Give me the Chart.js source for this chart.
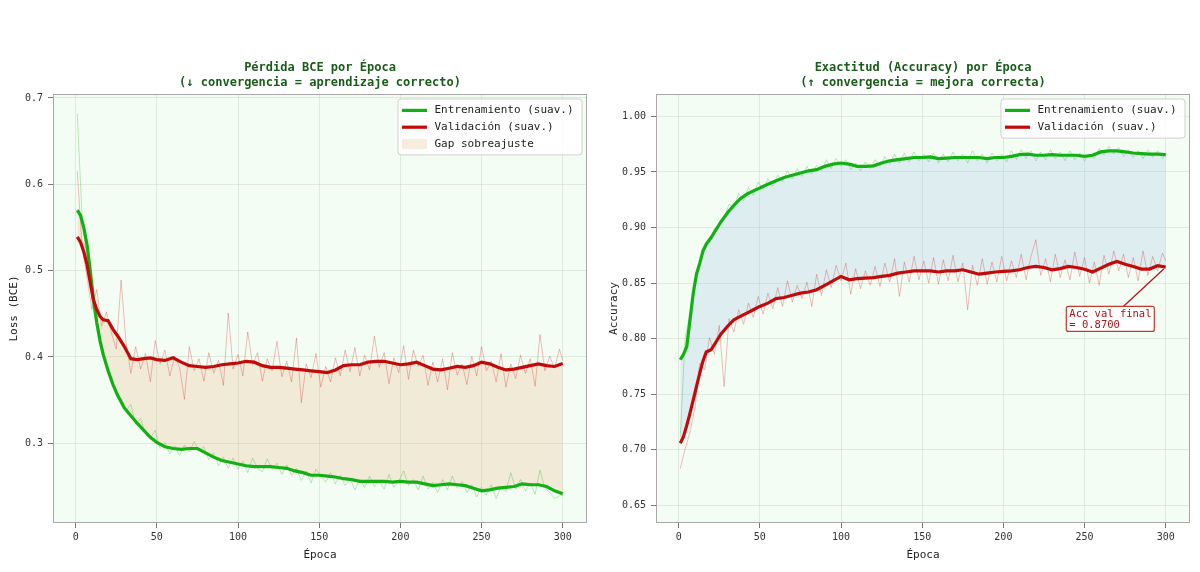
<!DOCTYPE html>
<html lang="es">
<head>
<meta charset="UTF-8">
<title>Pérdida BCE y Exactitud por Época</title>
<script src="https://cdn.jsdelivr.net/npm/chart.js@4/dist/chart.umd.min.js"></script>
<style>
    body { margin: 0; background: #fff; }
    .wrap { position: relative; width: 1200px; height: 572px; }
    .panel { position: absolute; top: 0; width: 600px; height: 572px; }
    #lossBox { left: 0; }
    #accBox { left: 600px; }
</style>
</head>
<body>
<div class="wrap">
    <div class="panel" id="lossBox"><canvas id="lossChart"></canvas></div>
    <div class="panel" id="accBox"><canvas id="accChart"></canvas></div>
</div>

<script>
const SMOOTH_EP = [1, 3, 5, 7, 9, 11, 13, 15, 17, 20, 23, 26, 30, 34, 38, 42, 46,
    50, 55, 60, 65, 70, 75, 80, 85, 90, 95, 100,
    105, 110, 115, 120, 125, 130, 135, 140, 145, 150,
    155, 160, 165, 170, 175, 180, 185, 190, 195, 200,
    205, 210, 215, 220, 225, 230, 235, 240, 245, 250,
    255, 260, 265, 270, 275, 280, 285, 290, 295, 300];

// raw (per-epoch) curves sampled every 3rd epoch: 1, 4, 7 ... 298, then 300
const RAW_EP = [];
for (let e = 1; e <= 298; e += 3) RAW_EP.push(e);
RAW_EP.push(300);

const X_TICKS = [0, 50, 100, 150, 200, 250, 300];
const LOSS_TICKS = [0.3, 0.4, 0.5, 0.6, 0.7];
const ACC_TICKS = [0.65, 0.70, 0.75, 0.80, 0.85, 0.90, 0.95, 1.00];

// --- BCE loss ---
const LOSS_TRAIN_SMOOTH = [0.570, 0.564, 0.550, 0.530, 0.500, 0.466, 0.440, 0.419, 0.403, 0.384, 0.368, 0.355, 0.341, 0.332, 0.323, 0.315, 0.307,
    0.301, 0.296, 0.294, 0.293, 0.294, 0.294, 0.289, 0.284, 0.280, 0.278, 0.276,
    0.274, 0.273, 0.273, 0.273, 0.272, 0.271, 0.268, 0.266, 0.263, 0.263,
    0.262, 0.261, 0.259, 0.258, 0.256, 0.256, 0.256, 0.256, 0.255, 0.256,
    0.255, 0.255, 0.253, 0.251, 0.252, 0.253, 0.252, 0.251, 0.248, 0.245,
    0.246, 0.248, 0.249, 0.250, 0.253, 0.252, 0.252, 0.250, 0.245, 0.2415];

const LOSS_VAL_SMOOTH = [0.539, 0.533, 0.522, 0.507, 0.486, 0.466, 0.455, 0.447, 0.443, 0.442, 0.432, 0.424, 0.412, 0.398, 0.397, 0.398, 0.399,
    0.397, 0.396, 0.399, 0.394, 0.390, 0.389, 0.388, 0.389, 0.391, 0.392, 0.393,
    0.395, 0.394, 0.390, 0.388, 0.388, 0.387, 0.386, 0.385, 0.384, 0.383,
    0.382, 0.385, 0.390, 0.391, 0.391, 0.394, 0.395, 0.395, 0.393, 0.391,
    0.392, 0.394, 0.390, 0.386, 0.385, 0.387, 0.389, 0.388, 0.390, 0.394,
    0.392, 0.388, 0.385, 0.386, 0.388, 0.390, 0.392, 0.390, 0.389, 0.3925];

const LOSS_TRAIN_RAW = [
    0.682, 0.560, 0.515, 0.468, 0.432, 0.404, 0.386, 0.372, 0.356, 0.352,
    0.338, 0.345, 0.322, 0.329, 0.311, 0.306, 0.315, 0.294, 0.301, 0.288,
    0.297, 0.286, 0.298, 0.290, 0.302, 0.291, 0.296, 0.281, 0.289, 0.274,
    0.284, 0.271, 0.283, 0.270, 0.279, 0.266, 0.283, 0.271, 0.267, 0.282,
    0.270, 0.277, 0.264, 0.275, 0.263, 0.271, 0.257, 0.268, 0.254, 0.270,
    0.262, 0.255, 0.266, 0.253, 0.263, 0.251, 0.259, 0.246, 0.258, 0.249,
    0.262, 0.250, 0.257, 0.247, 0.264, 0.249, 0.256, 0.268, 0.251, 0.258,
    0.246, 0.262, 0.247, 0.255, 0.243, 0.258, 0.246, 0.262, 0.248, 0.256,
    0.243, 0.252, 0.238, 0.249, 0.240, 0.252, 0.236, 0.250, 0.244, 0.266,
    0.247, 0.258, 0.245, 0.254, 0.241, 0.269, 0.248, 0.243, 0.236, 0.239,
    0.240];

const LOSS_VAL_RAW = [
    0.615, 0.527, 0.492, 0.455, 0.478, 0.436, 0.452, 0.428, 0.409, 0.489,
    0.418, 0.381, 0.412, 0.386, 0.404, 0.371, 0.419, 0.392, 0.408, 0.378,
    0.401, 0.388, 0.351, 0.412, 0.384, 0.398, 0.372, 0.405, 0.381, 0.396,
    0.367, 0.451, 0.386, 0.403, 0.378, 0.429, 0.391, 0.405, 0.372, 0.398,
    0.384, 0.418, 0.377, 0.395, 0.371, 0.422, 0.347, 0.392, 0.376, 0.404,
    0.365, 0.389, 0.371, 0.399, 0.378, 0.408, 0.383, 0.411, 0.378, 0.402,
    0.385, 0.424, 0.388, 0.405, 0.369, 0.399, 0.382, 0.413, 0.374, 0.408,
    0.389, 0.402, 0.367, 0.394, 0.371, 0.398, 0.362, 0.405, 0.379, 0.392,
    0.368, 0.401, 0.378, 0.412, 0.384, 0.395, 0.371, 0.404, 0.365, 0.392,
    0.375, 0.402, 0.381, 0.398, 0.366, 0.426, 0.384, 0.401, 0.387, 0.409,
    0.396];

// --- accuracy ---
const ACC_TRAIN_SMOOTH = [0.781, 0.786, 0.793, 0.817, 0.841, 0.858, 0.868, 0.879, 0.885, 0.891, 0.898, 0.905, 0.913, 0.920, 0.926, 0.930, 0.933,
    0.9355, 0.939, 0.942, 0.945, 0.947, 0.949, 0.951, 0.952, 0.955, 0.957, 0.958,
    0.957, 0.955, 0.955, 0.9555, 0.958, 0.960, 0.961, 0.962, 0.963, 0.963,
    0.9635, 0.962, 0.9625, 0.963, 0.963, 0.963, 0.963, 0.962, 0.963, 0.963,
    0.964, 0.9655, 0.966, 0.965, 0.965, 0.9655, 0.965, 0.965, 0.965, 0.964,
    0.965, 0.968, 0.969, 0.969, 0.968, 0.967, 0.9665, 0.966, 0.966, 0.9655];

const ACC_VAL_SMOOTH = [0.706, 0.712, 0.722, 0.733, 0.745, 0.757, 0.769, 0.780, 0.788, 0.790, 0.797, 0.804, 0.811, 0.817, 0.820, 0.823, 0.826,
    0.829, 0.832, 0.836, 0.837, 0.839, 0.841, 0.842, 0.844, 0.848, 0.852, 0.856,
    0.853, 0.854, 0.8545, 0.855, 0.856, 0.857, 0.859, 0.860, 0.861, 0.861,
    0.861, 0.860, 0.861, 0.861, 0.862, 0.860, 0.858, 0.859, 0.860, 0.8605,
    0.861, 0.862, 0.864, 0.865, 0.864, 0.862, 0.863, 0.865, 0.864, 0.8625,
    0.860, 0.8635, 0.867, 0.8695, 0.867, 0.865, 0.8626, 0.8626, 0.8656, 0.8644];

const ACC_TRAIN_RAW = [
    0.712, 0.801, 0.822, 0.851, 0.866, 0.884, 0.887, 0.899, 0.903, 0.908,
    0.921, 0.917, 0.931, 0.924, 0.936, 0.929, 0.941, 0.934, 0.944, 0.937,
    0.947, 0.941, 0.951, 0.944, 0.953, 0.946, 0.955, 0.948, 0.956, 0.951,
    0.961, 0.953, 0.962, 0.955, 0.961, 0.952, 0.958, 0.951, 0.959, 0.953,
    0.961, 0.955, 0.964, 0.957, 0.966, 0.958, 0.967, 0.959, 0.968, 0.960,
    0.966, 0.959, 0.967, 0.958, 0.966, 0.959, 0.968, 0.960, 0.966, 0.958,
    0.969, 0.960, 0.966, 0.958, 0.967, 0.960, 0.966, 0.959, 0.969, 0.961,
    0.970, 0.962, 0.969, 0.960, 0.968, 0.961, 0.970, 0.962, 0.968, 0.960,
    0.969, 0.961, 0.967, 0.960, 0.966, 0.962, 0.971, 0.965, 0.973, 0.966,
    0.972, 0.964, 0.970, 0.963, 0.969, 0.962, 0.970, 0.963, 0.969, 0.962,
    0.967];

const ACC_VAL_RAW = [
    0.683, 0.701, 0.716, 0.737, 0.778, 0.772, 0.801, 0.786, 0.812, 0.757,
    0.818, 0.806, 0.826, 0.813, 0.832, 0.819, 0.838, 0.822, 0.841, 0.827,
    0.846, 0.829, 0.852, 0.833, 0.848, 0.836, 0.851, 0.829, 0.858, 0.839,
    0.862, 0.846, 0.866, 0.852, 0.868, 0.840, 0.863, 0.845, 0.861, 0.848,
    0.865, 0.847, 0.868, 0.851, 0.872, 0.838, 0.869, 0.851, 0.874, 0.853,
    0.870, 0.850, 0.873, 0.849, 0.871, 0.852, 0.875, 0.851, 0.868, 0.826,
    0.866, 0.848, 0.872, 0.849, 0.869, 0.851, 0.874, 0.852, 0.870, 0.855,
    0.876, 0.853, 0.874, 0.889, 0.857, 0.872, 0.851, 0.876, 0.855, 0.871,
    0.853, 0.878, 0.856, 0.873, 0.850, 0.869, 0.848, 0.875, 0.858, 0.879,
    0.861, 0.876, 0.855, 0.873, 0.852, 0.879, 0.857, 0.874, 0.861, 0.877,
    0.870];

// colours
const GREEN = '#12b012';
const RED = '#c20a0a';
const GREEN_RAW = 'rgba(25,170,25,0.28)';
const RED_RAW = 'rgba(205,40,40,0.3)';
const GAP_LOSS = 'rgba(229,186,137,0.27)';
const GAP_ACC = 'rgba(183,209,233,0.36)';
const PLOT_BG = '#f4fdf4';
const GRID = 'rgba(160,185,160,0.28)';
const TITLE_GREEN = '#1a5c1a';

Chart.defaults.font.family = '"DejaVu Sans Mono", monospace';
Chart.defaults.animation = false;

const pts = (xs, ys) => xs.map((x, i) => ({ x: x, y: ys[i] }));

function makeDatasets(trainS, valS, trainR, valR, gapColor) {
    return [
        { label: 'Entrenamiento (suav.)', data: pts(SMOOTH_EP, trainS), borderColor: GREEN, borderWidth: 3.2, order: 1, fill: false },
        { label: 'Validación (suav.)', data: pts(SMOOTH_EP, valS), borderColor: RED, borderWidth: 3.2, order: 0, fill: '-1', backgroundColor: gapColor },
        { label: 'Entrenamiento', data: pts(RAW_EP, trainR), borderColor: GREEN_RAW, borderWidth: 1, order: 3, fill: false },
        { label: 'Validación', data: pts(RAW_EP, valR), borderColor: RED_RAW, borderWidth: 1, order: 2, fill: false }
    ];
}

function makeScales(yMin, yMax, yTicks, decimals, yTitle, yWidth) {
    return {
        x: {
            type: 'linear', min: -13.95, max: 314.95,
            afterBuildTicks: s => { s.ticks = X_TICKS.map(v => ({ value: v })); },
            afterFit: s => { s.height = 49; },
            ticks: { color: '#333', font: { size: 10 }, padding: 3, maxRotation: 0, callback: v => String(v) },
            grid: { color: GRID, tickColor: '#777', tickLength: 5 },
            border: { display: false },
            title: { display: true, text: 'Época', color: '#222', font: { size: 11 }, padding: { top: 0, bottom: 10 } }
        },
        y: {
            type: 'linear', min: yMin, max: yMax,
            afterBuildTicks: s => { s.ticks = yTicks.map(v => ({ value: v })); },
            afterFit: s => { s.width = yWidth; },
            ticks: { color: '#333', font: { size: 10 }, padding: 5, callback: v => v.toFixed(decimals) },
            grid: { color: GRID, tickColor: '#777', tickLength: 5 },
            border: { display: false },
            title: { display: true, text: yTitle, color: '#222', font: { size: 11 }, padding: { top: 8, bottom: 0 } }
        }
    };
}

// plot background, frame, boxed legend inside the axes and the optional annotation
const panelDecor = {
    id: 'panelDecor',
    beforeDraw(chart) {
        const { ctx, chartArea: a } = chart;
        ctx.save();
        ctx.fillStyle = PLOT_BG;
        ctx.fillRect(a.left, a.top, a.right - a.left, a.bottom - a.top);
        ctx.restore();
    },
    afterDraw(chart, args, opts) {
        const { ctx, chartArea: a } = chart;
        ctx.save();
        ctx.strokeStyle = '#a8a8a8';
        ctx.lineWidth = 1;
        ctx.strokeRect(a.left + 0.5, a.top + 0.5, a.right - a.left - 1, a.bottom - a.top - 1);

        // legend
        const items = opts.items || [];
        const rowH = 16.8, w = 184;
        const h = rowH * items.length + 5.5;
        const x0 = a.right - 5 - w, y0 = a.top + 5;
        ctx.beginPath();
        ctx.roundRect(x0, y0, w, h, 3);
        ctx.fillStyle = 'rgba(255,255,255,0.85)';
        ctx.fill();
        ctx.strokeStyle = '#cfcfcf';
        ctx.stroke();
        ctx.font = '11px "DejaVu Sans Mono"';
        ctx.textBaseline = 'middle';
        items.forEach((it, i) => {
            const cy = y0 + 11.4 + i * rowH;
            if (it.patch) {
                ctx.fillStyle = it.color;
                ctx.fillRect(x0 + 4, cy - 5, 25, 10);
            } else {
                ctx.strokeStyle = it.color;
                ctx.lineWidth = 3.2;
                ctx.beginPath();
                ctx.moveTo(x0 + 4, cy);
                ctx.lineTo(x0 + 29, cy);
                ctx.stroke();
            }
            ctx.fillStyle = '#222';
            ctx.fillText(it.label, x0 + 36.5, cy);
        });

        // annotation with a pointer to the final validation point
        const ann = opts.annotation;
        if (ann) {
            const xs = chart.scales.x, ys = chart.scales.y;
            const tx = xs.getPixelForValue(ann.target[0]);
            const ty = ys.getPixelForValue(ann.target[1]);
            const bx = xs.getPixelForValue(ann.at[0]) - 2;
            const by = ys.getPixelForValue(ann.at[1]) - 10;
            const bw = 88, bh = 25;
            ctx.strokeStyle = '#b01818';
            ctx.lineWidth = 1.3;
            ctx.beginPath();
            ctx.moveTo(bx + 57, by);
            ctx.lineTo(tx - 2, ty + 2);
            ctx.stroke();
            ctx.beginPath();
            ctx.roundRect(bx, by, bw, bh, 2);
            ctx.fillStyle = '#ffffff';
            ctx.fill();
            ctx.strokeStyle = '#c0392b';
            ctx.lineWidth = 1.2;
            ctx.stroke();
            ctx.fillStyle = '#a31515';
            ctx.font = '10.5px "DejaVu Sans Mono"';
            ctx.textBaseline = 'middle';
            ann.lines.forEach((t, i) => ctx.fillText(t, bx + 3, by + 7.6 + i * 11));
        }
        ctx.restore();
    }
};

function makeOptions(titleLines, scales, padRight, decor) {
    return {
        responsive: true,
        maintainAspectRatio: false,
        events: [],
        layout: { padding: { left: 0, right: padRight, top: 0, bottom: 0 } },
        elements: { point: { radius: 0, hoverRadius: 0 }, line: { tension: 0 } },
        scales: scales,
        plugins: {
            legend: { display: false },
            tooltip: { enabled: false },
            filler: { drawTime: 'beforeDatasetsDraw', propagate: false },
            title: {
                display: true, text: titleLines, color: TITLE_GREEN, fullSize: false,
                font: { size: 12, weight: 'bold', lineHeight: 1.2 },
                padding: { top: 60.8, bottom: 4.4 }
            },
            panelDecor: decor
        }
    };
}

new Chart(document.getElementById('lossChart'), {
    type: 'line',
    data: { datasets: makeDatasets(LOSS_TRAIN_SMOOTH, LOSS_VAL_SMOOTH, LOSS_TRAIN_RAW, LOSS_VAL_RAW, GAP_LOSS) },
    options: makeOptions(
        ['Pérdida BCE por Época', '(↓ convergencia = aprendizaje correcto)'],
        makeScales(0.2077, 0.7046, LOSS_TICKS, 1, 'Loss (BCE)', 53),
        13,
        { items: [
            { label: 'Entrenamiento (suav.)', color: GREEN },
            { label: 'Validación (suav.)', color: RED },
            { label: 'Gap sobreajuste', color: GAP_LOSS, patch: true }
        ] }
    ),
    plugins: [panelDecor]
});

const finalVal = ACC_VAL_RAW[ACC_VAL_RAW.length - 1];
new Chart(document.getElementById('accChart'), {
    type: 'line',
    data: { datasets: makeDatasets(ACC_TRAIN_SMOOTH, ACC_VAL_SMOOTH, ACC_TRAIN_RAW, ACC_VAL_RAW, GAP_ACC) },
    options: makeOptions(
        ['Exactitud (Accuracy) por Época', '(↑ convergencia = mejora correcta)'],
        makeScales(0.6342, 1.0201, ACC_TICKS, 2, 'Accuracy', 56),
        10,
        {
            items: [
                { label: 'Entrenamiento (suav.)', color: GREEN },
                { label: 'Validación (suav.)', color: RED }
            ],
            annotation: {
                at: [240, 0.82],
                target: [300, ACC_VAL_SMOOTH[ACC_VAL_SMOOTH.length - 1]],
                lines: ['Acc val final', '= ' + finalVal.toFixed(4)]
            }
        }
    ),
    plugins: [panelDecor]
});
</script>
</body>
</html>
